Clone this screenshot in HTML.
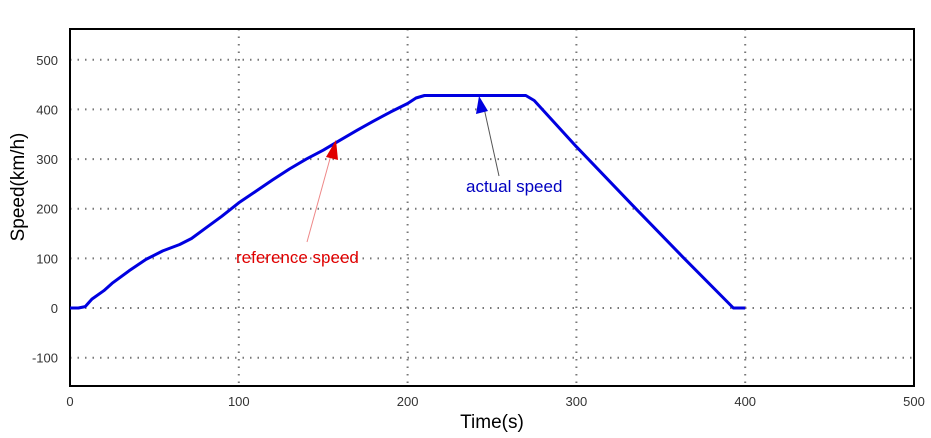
<!DOCTYPE html>
<html><head><meta charset="utf-8"><style>
html,body{margin:0;padding:0;background:#fff;}
svg{display:block;font-family:"Liberation Sans",sans-serif;}
</style></head><body>
<svg id="chart" width="931" height="438"></svg>
<script>
const timeS=[0,5,9,13,20,25,35,45,55,65,72,80,90,100,110,120,130,140,150,160,170,180,190,200,205,210,270,275,300,333,363,393,400];
const speedKmh=[0,0,3,18,35,50,75,98,115,128,140,160,185,212,235,258,280,300,318,338,358,377,395,412,423,428,428,418,325,208,103,0,0];
const xTicks=[0,100,200,300,400,500];
const yTicks=[-100,0,100,200,300,400,500];
const L=70,R=914,T=29,B=386,X0=0,X1=500,Y0=-157,Y1=562;
const sx=t=>L+(t-X0)/(X1-X0)*(R-L);
const sy=v=>B-(v-Y0)/(Y1-Y0)*(B-T);
const svg=document.getElementById('chart');
const NS='http://www.w3.org/2000/svg';
function mk(tag,attrs,parent){const e=document.createElementNS(NS,tag);for(const k in attrs)e.setAttribute(k,attrs[k]);(parent||svg).appendChild(e);return e;}
const grid=mk('g',{});


xTicks.forEach(t=>{
  if(t>X0&&t<X1){const g=mk('line',{x1:sx(t),x2:sx(t),y1:T,y2:B,stroke:'#777','stroke-width':2,'stroke-dasharray':'1.5 6'},grid);
  
  }
  const tx=mk('text',{x:sx(t),y:B+20,'font-size':13,fill:'#333','text-anchor':'middle'});
  
  
  tx.textContent=t;
});
yTicks.forEach(v=>{
  const g=mk('line',{x1:L,x2:R,y1:sy(v),y2:sy(v),stroke:'#777','stroke-width':2,'stroke-dasharray':'1.5 6'},grid);
  
  
  const tx=mk('text',{x:L-12,y:sy(v)+5,'font-size':13,fill:'#333','text-anchor':'end'});
  
  
  tx.textContent=v;
});
const frame=mk('rect',{x:L,y:T,width:R-L,height:B-T,fill:'none',stroke:'#000','stroke-width':2});


const pts=timeS.map((t,i)=>sx(t).toFixed(1)+','+sy(speedKmh[i]).toFixed(1)).join(' ');
const ref=mk('polyline',{points:pts,fill:'none',stroke:'#e00000','stroke-width':2});


const act=mk('polyline',{points:pts,fill:'none',stroke:'#0000e0','stroke-width':3,'stroke-linejoin':'round'});


const a1=mk('line',{x1:307,y1:242,x2:331,y2:155,stroke:'#e88','stroke-width':1});


const h1=mk('polygon',{points:'336,140 326,157 338,160',fill:'#e00000'});


const t1=mk('text',{x:236,y:263,'font-size':17,fill:'#e00000'});


t1.textContent='reference speed';
const a2=mk('line',{x1:499,y1:176,x2:484,y2:108,stroke:'#555','stroke-width':1});


const h2=mk('polygon',{points:'479,96 476,114 488,111',fill:'#0000e0'});


const t2=mk('text',{x:466,y:192,'font-size':17,fill:'#0000c0'});


t2.textContent='actual speed';
const xt=mk('text',{x:492,y:428,'font-size':19,fill:'#000','text-anchor':'middle'});


xt.textContent='Time(s)';
const yt=mk('text',{x:0,y:0,'font-size':19,fill:'#000','text-anchor':'middle',transform:'translate(24,187) rotate(-90)'});


yt.textContent='Speed(km/h)';
</script>
</body></html>
